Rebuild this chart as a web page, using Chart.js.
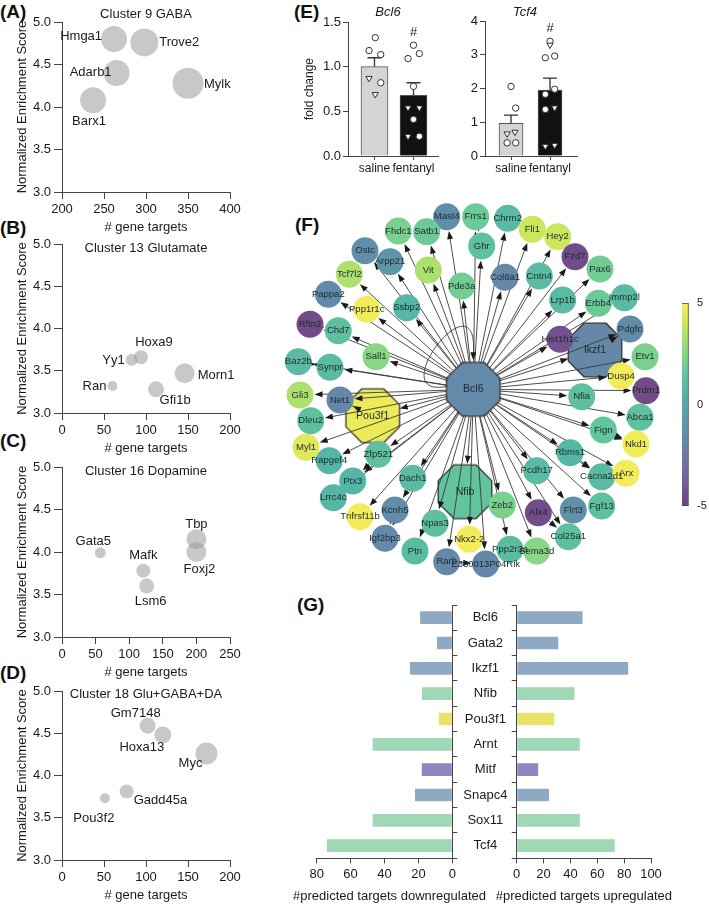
<!DOCTYPE html>
<html><head><meta charset="utf-8">
<script src="https://cdn.jsdelivr.net/npm/chart.js@4.4.1/dist/chart.umd.min.js"></script>
<style>
html,body{margin:0;padding:0;background:#fff;}
#root{position:relative;width:709px;height:905px;overflow:hidden;background:#fff;font-family:"Liberation Sans",Arial,sans-serif;}
canvas.c{position:absolute;}
.lab{position:absolute;font-weight:bold;font-size:19px;line-height:22px;color:#111;font-family:"Liberation Sans",Arial,sans-serif;}
</style></head><body><div id="root">
<div class="lab" style="left:0px;top:1px">(A)</div>
<div class="lab" style="left:0px;top:217px">(B)</div>
<div class="lab" style="left:0px;top:430px">(C)</div>
<div class="lab" style="left:0px;top:662px">(D)</div>
<div class="lab" style="left:294px;top:1px">(E)</div>
<div class="lab" style="left:295px;top:214px">(F)</div>
<div class="lab" style="left:297px;top:594px">(G)</div>
</div>
<script>
// ---------------- DATA ----------------
// (A) Cluster 9 GABA
const aGenes = ['Hmga1','Trove2','Adarb1','Mylk','Barx1'];
const aTargets = [262, 298, 265, 350, 237];
const aNES = [4.80, 4.76, 4.40, 4.28, 4.08];
const aSize = [13, 14, 13, 15.5, 13];
// (B) Cluster 13 Glutamate
const bGenes = ['Ran','Yy1','Hoxa9','Gfi1b','Morn1'];
const bTargets = [60, 83, 94, 112, 146];
const bNES = [3.32, 3.63, 3.66, 3.28, 3.47];
const bSize = [5, 6, 7, 8, 10];
// (C) Cluster 16 Dopamine
const cGenes = ['Gata5','Mafk','Lsm6','Tbp','Foxj2'];
const cTargets = [57, 121, 126, 200, 200];
const cNES = [3.99, 3.78, 3.60, 4.15, 4.00];
const cSize = [5.5, 7, 7.5, 10, 10];
// (D) Cluster 18 Glu+GABA+DA
const dGenes = ['Gm7148','Hoxa13','Myc','Gadd45a','Pou3f2'];
const dTargets = [102, 120, 172, 77, 51];
const dNES = [4.59, 4.48, 4.26, 3.81, 3.73];
const dSize = [8, 8.5, 11, 7, 5];
// label placement [align, dx, dy] relative to bubble centre
const aLab = [['right',-12,-3],['left',15,0],['right',-5,-1],['left',16,1],['center',-4,21]];
const bLab = [['right',-6,0],['right',-7,1],['center',13,-15],['center',19,11],['left',13,2]];
const cLab = [['center',-7,-11],['center',0,-15],['center',4,15],['center',0,-15],['center',3,17]];
const dLab = [['center',-12,-12],['center',-21,12],['center',-16,10],['left',7,9],['center',-11,20]];
const xTitle = '# gene targets';
const yTitle = 'Normalized Enrichment Score';

// (E) qPCR
const groups = ['saline','fentanyl'];
const bcl6Mean = [1.00, 0.68];
const bcl6Err = [1.10, 0.82];
const bcl6SalY = [1.325, 1.18, 1.135, 0.87, 0.82, 0.69];
const bcl6SalX = [0.02, -0.14, 0.16, -0.14, 0.16, 0.02];
const bcl6SalShape = ['c','c','c','t','c','t'];
const bcl6FenY = [1.24, 1.146, 1.09, 0.78, 0.54, 0.54, 0.41, 0.22, 0.22];
const bcl6FenX = [0, 0.15, -0.14, 0, -0.14, 0.15, 0, -0.14, 0.15];
const bcl6FenShape = ['c','c','c','c','t','t','c','t','c'];
const tcf4Mean = [0.97, 1.95];
const tcf4Err = [1.21, 2.31];
const tcf4SalY = [2.06, 1.42, 0.66, 0.71, 0.39, 0.39];
const tcf4SalX = [0, 0.12, -0.1, 0.1, -0.1, 0.12];
const tcf4SalShape = ['c','c','t','t','c','c'];
const tcf4FenY = [3.40, 3.29, 2.91, 2.96, 1.98, 1.83, 1.38, 1.43, 0.29, 0.32];
const tcf4FenX = [0, 0, -0.12, 0.12, 0.12, -0.12, -0.12, 0.12, -0.12, 0.12];
const tcf4FenShape = ['c','t','c','c','c','c','c','t','t','t'];
const bcl6Hash = 1.38, tcf4Hash = 3.78;

// (F) network: node names, layout coordinates, log fold change (colour)
const hubNames = ['Bcl6','Ikzf1','Pou3f1','Nfib'];
const hubX = [473.3, 595, 372.7, 465];
const hubY = [389.3, 350, 415.7, 491.7];
const hubFC = [-1.8, -1.9, 4.6, 1.4];
const geneNames = ['Mast4','Frrs1','Chrm2','Fhdc1','Satb1','Fli1','Hey2','Ghr','Ostc','Arpp21','Vit','Fzd7','Pax6','Tcf7l2','Col8a1','Cntn4','Pde3a','Pappa2','Lrp1b','Erbb4','Immp2l','Ppp1r1c','Ssbp2','Rftn2','Chd7','Hist1h1c','Pdgfc','Etv1','Sall1','Baz2b','Synpr','Dusp4','Prdm1','Gli3','Net1','Nfia','Dleu2','Abca1','Fign','Myl1','Rapgef4','Zfp521','Nkd1','Rbms1','Pcdh17','Cacna2d1','Arx','Ptx3','Dach1','Lrrc4c','Zeb2','Alx4','Flrt3','Fgf13','Tnfrsf11b','Kcnh5','Npas3','Col25a1','Igf2bp3','Nkx2-2','Ppp2r3a','Sema3d','Ptn','Rarb','E330013P04Rik'];
const geneX = [446.7,475.7,507.7,398.3,426.7,532.3,557.7,481.7,365,390,428.3,575,600,349.3,505,539.3,461.7,328.3,562.7,598.3,624.3,366.7,406.7,310,338.3,560,630,645,376,298.3,330,621,646,300,340,581.7,310.7,640,603.3,306,329.3,378.3,636,570,536.7,601.7,626,352.7,412.7,333.3,502.3,538.3,573.3,601.7,360,395,435,568.3,385,469.3,510,536.7,415,446.7,485.7];
const geneY = [216.7,216.7,218.3,231,231.7,229.3,236.7,246,250.7,261.7,270,256.7,269,274.3,277.3,276,286,294.3,300,303.3,297.7,309.3,307.7,324.3,330.7,339.3,329,356.7,356.7,361.7,367.3,376,390.7,395,400,396.7,420.7,417.3,430,447.3,460.7,454.3,444,452.7,470.7,476.7,473.3,481,478.3,497.7,505,512.7,510,506,516.7,510,523.3,536.7,538.3,539.3,549.3,551,551,561.7,564];
const geneFC = [-1.6,1.8,0.9,2.2,1.8,4.0,4.0,1.2,-1.5,-1.2,3.4,-4.5,2.0,3.4,-1.9,0.9,2.0,-1.8,0.9,1.8,0.9,4.8,0.6,-4.5,1.2,-4.3,-1.8,2.2,2.6,0.9,0.9,4.8,-4.5,3.4,-1.9,1.2,1.2,1.2,1.5,4.4,0.6,1.2,4.8,0.6,0.9,0.9,4.8,0.6,0.9,0.6,2.2,-4.5,-1.4,1.2,4.8,-1.6,1.2,1.2,-1.8,4.8,1.0,2.6,1.0,-1.9,-1.9];
const extraFrom = ['Baz2b','Rftn2','Frrs1','Erbb4','Ikzf1','Fign','Rbms1','Alx4','Kcnh5','Pou3f1','Rarb','Zfp521'];
const extraTo   = ['Synpr','Chd7','Ghr','Immp2l','Pdgfc','Nkd1','Cacna2d1','Col25a1','Igf2bp3','Net1','E330013P04Rik','Ptx3'];
const cbTicks = [-5, 0, 5];

// (G) TF predicted targets
const tfNames = ['Bcl6','Gata2','Ikzf1','Nfib','Pou3f1','Arnt','Mitf','Snapc4','Sox11','Tcf4'];
const tfDown = [19, 9, 25, 18, 8, 47, 18, 22, 47, 74];
const tfUp = [49, 31, 83, 43, 28, 47, 16, 24, 47, 73];
const tfColors = ['#8eaac3','#8eaac3','#8eaac3','#a0d8b6','#e8e26a','#a0d8b6','#8c88c2','#8eaac3','#a0d8b6','#a0d8b6'];
const gDownTicks = [0,20,40,60,80];
const gUpTicks = [0,20,40,60,80,100];
const gDownTitle = '#predicted targets downregulated';
const gUpTitle = '#predicted targets upregulated';

// ---------------- SETUP ----------------
const FONT = "'Liberation Sans', Arial, sans-serif";
Chart.defaults.font.family = FONT;
Chart.defaults.font.size = 13;
Chart.defaults.color = '#1a1a1a';
Chart.defaults.animation = false;
Chart.defaults.responsive = false;
Chart.defaults.events = [];
Chart.defaults.plugins.legend.display = false;
Chart.defaults.plugins.tooltip.enabled = false;
const AX = '#444';
const BUB = 'rgba(157,157,157,0.56)';
const root = document.getElementById('root');
const noRot = {maxRotation:0, minRotation:0, autoSkip:false};
const fixH = h => s => { s.height = h; s.paddingLeft = 0; s.paddingRight = 0; };
const fixW = w => s => { s.width = w; s.paddingTop = 0; s.paddingBottom = 0; };

function frame(area, m){
  const g = k => m[k] || 0;
  const L = Math.floor(area[0]-g('l')-g('el')), T = Math.floor(area[1]-g('t')-g('et'));
  const R = Math.ceil(area[2]+g('r')+g('er')), B = Math.ceil(area[3]+g('b')+g('eb'));
  return {L, T, W:R-L, H:B-T, pad:{left:area[0]-g('l')-L, top:area[1]-g('t')-T, right:R-area[2]-g('r'), bottom:B-area[3]-g('b')}};
}
function mkCanvas(f){
  const c = document.createElement('canvas');
  c.className = 'c'; c.width = f.W; c.height = f.H;
  c.style.left = f.L+'px'; c.style.top = f.T+'px'; c.style.width = f.W+'px'; c.style.height = f.H+'px';
  root.appendChild(c); return c;
}

// plugins
Chart.register({
  id:'bubbleLabels',
  afterDatasetsDraw(chart, args, o){
    if(!o || !o.names) return;
    const ctx = chart.ctx, meta = chart.getDatasetMeta(0);
    ctx.save(); ctx.font = '13px '+FONT; ctx.fillStyle = '#1a1a1a'; ctx.textBaseline = 'middle';
    meta.data.forEach((el,i)=>{ const s = o.spec[i]; ctx.textAlign = s[0]; ctx.fillText(o.names[i], el.x+s[1], el.y+s[2]); });
    ctx.restore();
  }
});
Chart.register({
  id:'panelTitle',
  afterDraw(chart, args, o){
    if(!o || !o.text) return;
    const a = chart.chartArea, ctx = chart.ctx;
    ctx.save(); ctx.font = (o.italic?'italic ':'')+(o.size||13)+'px '+FONT; ctx.fillStyle = '#1a1a1a';
    ctx.textAlign = 'center'; ctx.textBaseline = 'middle';
    const y = o.fromBottom != null ? a.bottom + o.fromBottom : a.top + (o.dy||0);
    ctx.fillText(o.text, (a.left+a.right)/2 + (o.dx||0), y);
    ctx.restore();
  }
});
Chart.register({
  id:'errHash',
  afterDatasetDraw(chart, args, o){
    if(!o || !o.err || args.index!==0) return;
    const ctx = chart.ctx, meta = chart.getDatasetMeta(0), y = chart.scales.y;
    ctx.save(); ctx.strokeStyle = '#333'; ctx.lineWidth = 1.3;
    meta.data.forEach((el,i)=>{
      const yt = y.getPixelForValue(o.err[i]);
      ctx.beginPath(); ctx.moveTo(el.x, el.y); ctx.lineTo(el.x, yt);
      ctx.moveTo(el.x-7, yt); ctx.lineTo(el.x+7, yt); ctx.stroke();
    });
    const el = meta.data[1];
    ctx.font = '13px '+FONT; ctx.fillStyle = '#1a1a1a'; ctx.textAlign = 'center'; ctx.textBaseline = 'middle';
    ctx.fillText('#', el.x, y.getPixelForValue(o.hash));
    ctx.restore();
  }
});

// ---------------- (A)-(D) bubble panels ----------------
function bubblePanel(area, names, xs, ys, rs, spec, xMin, xMax, xStep, title, titleDy, padTop){
  const yW = 62, xH = 45;
  const f = frame(area, {l:yW, b:xH, et:padTop, er:24});
  new Chart(mkCanvas(f), {
    type:'bubble',
    data:{datasets:[{data:xs.map((x,i)=>({x, y:ys[i], r:rs[i]})), backgroundColor:BUB, borderWidth:0, clip:false}]},
    options:{
      layout:{padding:f.pad, autoPadding:false},
      plugins:{bubbleLabels:{names, spec}, panelTitle:{text:title, dy:titleDy}},
      scales:{
        x:{type:'linear', min:xMin, max:xMax, ticks:Object.assign({stepSize:xStep, padding:3}, noRot), grid:{drawOnChartArea:false, tickLength:7, color:AX}, border:{color:AX},
           title:{display:true, text:xTitle, padding:{top:0, bottom:2}}, afterFit:fixH(xH)},
        y:{type:'linear', min:3, max:5, ticks:{stepSize:0.5, padding:3, callback:v=>v.toFixed(1)}, grid:{drawOnChartArea:false, tickLength:8, color:AX}, border:{color:AX},
           title:{display:true, text:yTitle, padding:{top:15, bottom:0}}, afterFit:fixW(yW)}
      }
    }
  });
}
bubblePanel([62,22,230,192], aGenes, aTargets, aNES, aSize, aLab, 200, 400, 50, 'Cluster 9 GABA', -8, 22);
bubblePanel([62,244,230,413], bGenes, bTargets, bNES, bSize, bLab, 0, 200, 50, 'Cluster 13 Glutamate', 4, 29);
bubblePanel([62,467,230,637], cGenes, cTargets, cNES, cSize, cLab, 0, 250, 50, 'Cluster 16 Dopamine', 4, 20);
bubblePanel([62,691,230,860], dGenes, dTargets, dNES, dSize, dLab, 0, 200, 50, 'Cluster 18 Glu+GABA+DA', 3, 20);

// ---------------- (E) bar + points ----------------
function qpcrPanel(area, yW, xMin, xMax, barW, yMax, yStep, fmt, mean, err, salY, salX, salS, fenY, fenX, fenS, hash, title, tdx, tdy, showYTitle){
  const xH = 20;
  const f = frame(area, {l:yW, b:xH, et:area[1], er:10});
  const pts = salY.map((y,i)=>({x:salX[i], y})).concat(fenY.map((y,i)=>({x:1+fenX[i], y})));
  const shp = salS.concat(fenS);
  new Chart(mkCanvas(f), {
    type:'bar',
    data:{datasets:[
      {type:'bar', data:mean.map((y,i)=>({x:i, y})), backgroundColor:['#d4d4d4','#111111'], borderColor:'#555', borderWidth:1, barThickness:barW, grouped:false, order:1},
      {type:'scatter', data:pts, pointStyle:shp.map(s=>s==='t'?'triangle':'circle'), rotation:shp.map(s=>s==='t'?180:0),
       pointRadius:shp.map(s=>s==='t'?3.6:3.2), backgroundColor:'#fff', borderColor:'#333', borderWidth:1, order:0}
    ]},
    options:{
      layout:{padding:f.pad, autoPadding:false},
      plugins:{errHash:{err, hash}, panelTitle:{text:title, italic:true, dx:tdx, dy:tdy}},
      scales:{
        x:{type:'linear', min:xMin, max:xMax, bounds:'data', offset:false, afterBuildTicks:s=>{ s.ticks = groups.map((g,i)=>({value:i})); },
           ticks:Object.assign({padding:1, font:{size:12}, callback:v=>groups[v]}, noRot), grid:{drawOnChartArea:false, offset:false, tickLength:4, color:AX}, border:{color:AX}, afterFit:fixH(xH)},
        y:{type:'linear', min:0, max:yMax, ticks:{stepSize:yStep, padding:2, callback:fmt}, grid:{drawOnChartArea:false, tickLength:5, color:AX}, border:{color:AX},
           title:{display:showYTitle, text:'fold change', font:{size:12}, padding:{top:7, bottom:0}}, afterFit:fixW(yW)}
      }
    }
  });
}
qpcrPanel([348,22,438,156], 53, -0.679, 1.628, 27, 1.5, 0.5, v=>v.toFixed(1), bcl6Mean, bcl6Err, bcl6SalY, bcl6SalX, bcl6SalShape, bcl6FenY, bcl6FenX, bcl6FenShape, bcl6Hash, 'Bcl6', -5, -10, true);
qpcrPanel([485,21,577,156], 30, -0.667, 1.692, 24, 4, 1, v=>String(v), tcf4Mean, tcf4Err, tcf4SalY, tcf4SalX, tcf4SalShape, tcf4FenY, tcf4FenX, tcf4FenShape, tcf4Hash, 'Tcf4', -6, -9, false);

// ---------------- (F) network ----------------
const VIR = [[68,1,84],[72,40,120],[62,74,137],[49,104,142],[38,130,142],[31,158,137],[53,183,121],[109,205,89],[180,222,44],[253,231,37]];
function viridis(t){ t = Math.max(0, Math.min(1, t)); const p = t*9, i = Math.min(8, Math.floor(p)), f = p-i; const a = VIR[i], b = VIR[i+1]; return a.map((v,k)=>v+(b[k]-v)*f); }
function fcColor(v){ const c = viridis((v+5)/10), w = 0.24; return 'rgb('+c.map(x=>Math.round(x+(255-x)*w)).join(',')+')'; }
function octagon(color, R){
  const s = Math.ceil(2*R+4), c = document.createElement('canvas'); c.width = s; c.height = s;
  const x = c.getContext('2d'); x.beginPath();
  for(let k=0;k<8;k++){ const a = Math.PI/8 + k*Math.PI/4; const px = s/2+R*Math.cos(a), py = s/2+R*Math.sin(a); k?x.lineTo(px,py):x.moveTo(px,py); }
  x.closePath(); x.fillStyle = color; x.fill(); x.strokeStyle = '#333'; x.lineWidth = 1.3; x.stroke();
  return c;
}
const HUB_R = 29, NODE_R = 13.5;
const allNames = hubNames.concat(geneNames), allX = hubX.concat(geneX), allY = hubY.concat(geneY);
const edges = geneNames.concat(hubNames.slice(1)).map(n=>['Bcl6', n]).concat(extraFrom.map((a,i)=>[a, extraTo[i]]));
Chart.register({
  id:'net',
  afterDatasetDraw(chart, args, o){
    if(!o || !o.on || args.index!==1) return;
    const ctx = chart.ctx, sx = chart.scales.x, sy = chart.scales.y;
    const P = n => { const i = allNames.indexOf(n); return {x:sx.getPixelForValue(allX[i]), y:sy.getPixelForValue(allY[i]), r:i<hubNames.length?27:NODE_R}; };
    ctx.save(); ctx.strokeStyle = '#3a3a3a'; ctx.fillStyle = '#1a1a1a'; ctx.lineWidth = 0.9;
    const arrow = (x,y,ux,uy)=>{ ctx.beginPath(); ctx.moveTo(x,y); ctx.lineTo(x-ux*8-uy*3, y-uy*8+ux*3); ctx.lineTo(x-ux*8+uy*3, y-uy*8-ux*3); ctx.closePath(); ctx.fill(); };
    edges.forEach(([a,b])=>{
      const A = P(a), B = P(b), dx = B.x-A.x, dy = B.y-A.y, d = Math.hypot(dx,dy), ux = dx/d, uy = dy/d;
      const ex = B.x-ux*(B.r+1), ey = B.y-uy*(B.r+1);
      ctx.beginPath(); ctx.moveTo(A.x+ux*A.r, A.y+uy*A.r); ctx.lineTo(ex-ux*4, ey-uy*4); ctx.stroke();
      arrow(ex, ey, ux, uy);
    });
    // self loop on Bcl6
    const b = P('Bcl6');
    ctx.beginPath(); ctx.moveTo(b.x-26, b.y-3);
    ctx.bezierCurveTo(b.x-93, b.y+11, b.x+7, b.y-119, b.x, b.y-34); ctx.stroke();
    arrow(b.x, b.y-29, 0, 1);
    ctx.restore();
  },
  afterDatasetsDraw(chart, args, o){
    if(!o || !o.on) return;
    const ctx = chart.ctx, sx = chart.scales.x, sy = chart.scales.y;
    ctx.save(); ctx.fillStyle = '#1c2a30'; ctx.textAlign = 'center'; ctx.textBaseline = 'middle';
    allNames.forEach((n,i)=>{
      ctx.font = (i<hubNames.length?'10.5px ':'9.5px ')+FONT;
      ctx.fillText(n, sx.getPixelForValue(allX[i]), sy.getPixelForValue(allY[i]));
    });
    ctx.restore();
  }
});
(function(){
  const area = [280,190,665,600];
  const f = frame(area, {});
  new Chart(mkCanvas(f), {
    type:'scatter',
    data:{datasets:[
      {data:geneX.map((x,i)=>({x, y:geneY[i]})), pointRadius:NODE_R, pointStyle:'circle', backgroundColor:geneFC.map(fcColor), borderWidth:0, clip:false},
      {data:hubX.map((x,i)=>({x, y:hubY[i]})), pointStyle:hubFC.map(v=>octagon(fcColor(v), HUB_R)), pointRadius:HUB_R, clip:false}
    ]},
    options:{
      layout:{padding:f.pad, autoPadding:false},
      plugins:{net:{on:true}},
      scales:{x:{type:'linear', display:false, min:area[0], max:area[2]}, y:{type:'linear', display:false, min:area[1], max:area[3], reverse:true}}
    }
  });
})();

// colour bar
(function(){
  const area = [682,303,695,506];
  const f = frame(area, {r:18, el:2, et:6, eb:6});
  new Chart(mkCanvas(f), {
    type:'bar',
    data:{labels:['logFC'], datasets:[{data:[[cbTicks[0], cbTicks[cbTicks.length-1]]], borderColor:'#444', borderWidth:1, borderSkipped:false, barPercentage:1, categoryPercentage:1,
      backgroundColor:c=>{ const a = c.chart.chartArea; if(!a) return '#888'; const g = c.chart.ctx.createLinearGradient(0, a.bottom, 0, a.top); for(let k=0;k<=20;k++) g.addColorStop(k/20, fcColor(-5+k/2)); return g; }}]},
    options:{
      layout:{padding:f.pad, autoPadding:false},
      scales:{
        x:{display:false, offset:false},
        y:{position:'right', min:cbTicks[0], max:cbTicks[cbTicks.length-1], afterBuildTicks:s=>{ s.ticks = cbTicks.map(v=>({value:v})); },
           ticks:{padding:2, font:{size:11}}, grid:{drawOnChartArea:false, drawTicks:false}, border:{display:false}, afterFit:fixW(18)}
      }
    }
  });
})();

// ---------------- (G) butterfly bars ----------------
(function(){
  const xH = 46.7;
  const fL = frame([316.7,605,452.3,858.3], {r:64.4, b:xH, el:35, et:8});
  new Chart(mkCanvas(fL), {
    type:'bar',
    data:{labels:tfNames, datasets:[{data:tfDown, backgroundColor:tfColors, borderWidth:0, barPercentage:0.5, categoryPercentage:1}]},
    options:{
      indexAxis:'y',
      layout:{padding:fL.pad, autoPadding:false},
      plugins:{panelTitle:{text:gDownTitle, dx:5, fromBottom:38.4}},
      scales:{
        x:{type:'linear', reverse:true, min:gDownTicks[0], max:gDownTicks[gDownTicks.length-1], afterBuildTicks:s=>{ s.ticks = gDownTicks.map(v=>({value:v})); },
           ticks:Object.assign({padding:3}, noRot), grid:{drawOnChartArea:false, tickLength:5, color:AX}, border:{color:AX}, afterFit:fixH(xH)},
        y:{position:'right', ticks:Object.assign({crossAlign:'center', padding:6}, noRot), grid:{drawOnChartArea:false, tickLength:5, color:AX}, border:{color:AX}, afterFit:fixW(64.4)}
      }
    }
  });
  const fR = frame([516.7,605,651,858.3], {b:xH, el:32, et:8, er:30});
  new Chart(mkCanvas(fR), {
    type:'bar',
    data:{labels:tfNames, datasets:[{data:tfUp, backgroundColor:tfColors, borderWidth:0, barPercentage:0.5, categoryPercentage:1}]},
    options:{
      indexAxis:'y',
      layout:{padding:fR.pad, autoPadding:false},
      plugins:{panelTitle:{text:gUpTitle, dx:0, fromBottom:38.4}},
      scales:{
        x:{type:'linear', min:gUpTicks[0], max:gUpTicks[gUpTicks.length-1], afterBuildTicks:s=>{ s.ticks = gUpTicks.map(v=>({value:v})); },
           ticks:Object.assign({padding:3}, noRot), grid:{drawOnChartArea:false, tickLength:5, color:AX}, border:{color:AX}, afterFit:fixH(xH)},
        y:{position:'left', ticks:{display:false}, grid:{drawOnChartArea:false, tickLength:5, color:AX}, border:{color:AX}, afterFit:fixW(0)}
      }
    }
  });
})();
</script></body></html>
